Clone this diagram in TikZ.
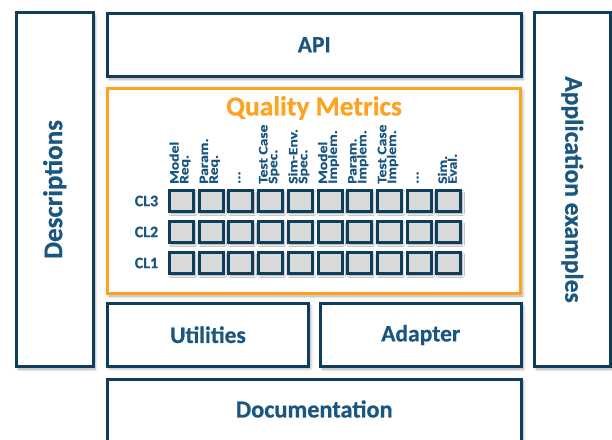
\documentclass[tikz,border=0pt]{standalone}
\usepackage{fontspec}
\setmainfont{Carlito}[FakeBold=0.6]
\newfontfamily\headfont{Carlito}[FakeStretch=1.2, FakeBold=0.6]
\usetikzlibrary{shadows.blur}
\definecolor{navy}{HTML}{0F3D5C}
\definecolor{txtblue}{HTML}{1A5680}
\definecolor{qorange}{HTML}{FFA21F}
\definecolor{cellgray}{HTML}{D9D9D9}
\tikzset{
  softshadow/.style={blur shadow={shadow xshift=2pt, shadow yshift=-2.5pt,
      shadow blur radius=3pt, shadow blur steps=6, shadow opacity=35}},
  panel/.style={draw=navy, line width=3pt, fill=white, softshadow,
      inner sep=0pt, text=txtblue, font=\fontsize{23.5}{26}\selectfont\bfseries},
  sidetext/.style={text=txtblue, inner sep=0pt,
      font=\fontsize{24}{26}\selectfont\bfseries},
  qframe/.style={draw=qorange, line width=3pt, fill=white, softshadow, inner sep=0pt},
  qtitle/.style={text=qorange, inner sep=0pt, font=\fontsize{27.5}{30}\selectfont\bfseries},
  cell/.style={draw=navy, line width=3pt, fill=cellgray, inner sep=0pt,
      minimum width=24pt, minimum height=21pt,
      blur shadow={shadow xshift=1.5pt, shadow yshift=-2pt,
      shadow blur radius=2pt, shadow blur steps=5, shadow opacity=40}},
  cllabel/.style={text=txtblue, inner sep=0pt, font=\fontsize{16}{18}\selectfont\bfseries},
  collabel/.style={text=txtblue, inner sep=0pt, rotate=90, anchor=west, align=left,
      font=\headfont\fontsize{13}{9.8}\selectfont\bfseries},
}
\begin{document}
\begin{tikzpicture}[x=1pt,y=-1pt]
\useasboundingbox (0,0) rectangle (612,439);

% side columns
\node[panel, minimum width=76.5pt, minimum height=354pt] (desc) at (54.75,189.5) {};
\node[sidetext, rotate=90, font=\fontsize{27}{30}\selectfont\bfseries] (desctext) at (desc.center) {Descriptions};
\node[panel, minimum width=75.5pt, minimum height=354pt] (appl) at (572.25,189.5) {};
\node[sidetext, rotate=-90, font=\fontsize{25.5}{28}\selectfont\bfseries] (appltext) at (appl.center) {Application examples};

% central stack
\node[panel, minimum width=413.5pt, minimum height=63.5pt] (api) at (314.25,44.75) {API};
\node[qframe, minimum width=413pt, minimum height=205.5pt] (qm) at (314,190.75) {};
\node[qtitle] (qmtitle) at (314,108) {Quality Metrics};
\node[panel, minimum width=201pt, minimum height=62.5pt] (util) at (208,334.75) {Utilities};
\node[panel, minimum width=200.5pt, minimum height=63pt] (adapt) at (420.75,335) {Adapter};
\node[panel, minimum width=413.5pt, minimum height=71pt] (doc) at (314.25,414.5) {};
\node[sidetext, font=\fontsize{24.3}{26}\selectfont\bfseries] (doctext) at (314.25,409) {Documentation};

% compliance levels
\foreach \r/\lab [count=\j from 0] in {3/CL3,2/CL2,1/CL1}{
  \node[cllabel] (cl\r) at (146.5,201+31*\j) {\lab};
  \foreach \c in {1,...,10}{
    \node[cell] (c\r-\c) at (181.5+29.7*\c-29.7,201+31*\j) {};
  }
}

% metric columns
\foreach \c/\txt in {1/{Model\\Req.},2/{Param.\\Req.},3/{...},4/{Test Case\\Spec.},
    5/{Sim-Env.\\Spec.},6/{Model\\Implem.},7/{Param.\\Implem.},8/{Test Case\\Implem.},
    9/{...},10/{Sim.\\Eval.}}{
  \node[collabel] (h\c) at ([xshift=-1.5pt,yshift=17pt]c3-\c.center) {\txt};
}
\end{tikzpicture}
\end{document}
